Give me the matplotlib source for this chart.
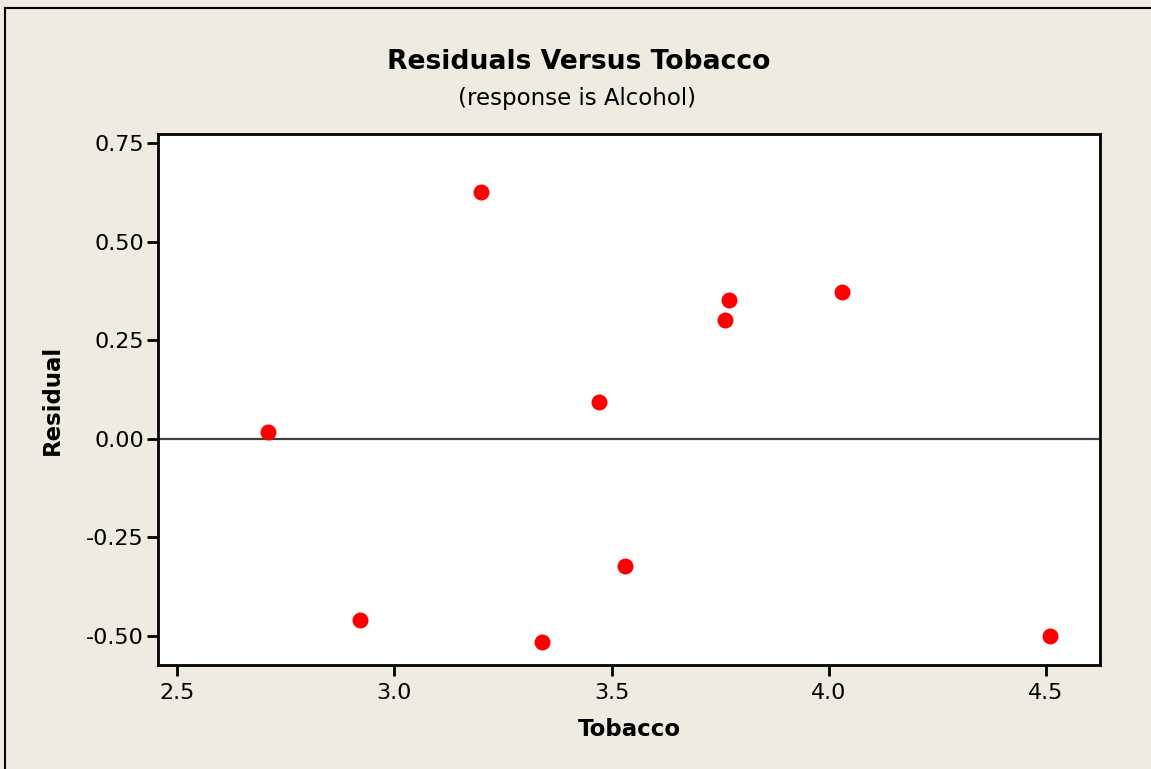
import matplotlib
matplotlib.use("Agg")
import matplotlib.pyplot as plt
from matplotlib.lines import Line2D

tobacco = [2.71, 2.92, 3.20, 3.34, 3.47, 3.53, 3.76, 3.77, 4.03, 4.51]
residual = [0.018, -0.459, 0.627, -0.515, 0.094, -0.322, 0.302, 0.353, 0.373, -0.500]
xticks = [2.5, 3.0, 3.5, 4.0, 4.5]
yticks = [-0.50, -0.25, 0.00, 0.25, 0.50, 0.75]

bg = "#EFEBE1"
plt.rcParams['font.family'] = ['DejaVu Sans']
fig = plt.figure(figsize=(11.51, 7.69), dpi=100, facecolor=bg)
ax = fig.add_axes([158/1151, 1-665/769, (1100-158)/1151, (665-134)/769])
ax.set_facecolor("white")
ax.axhline(0, color="#404040", lw=1.6, zorder=1)
ax.plot(tobacco, residual, 'o', color="#FF0000", markersize=11.5, markeredgewidth=0, zorder=3)
ax.set_xlim(2.456, 4.624)
ax.set_ylim(-0.574, 0.774)
ax.set_xticks(xticks)
ax.set_xticklabels([f"{v:.1f}" for v in xticks])
ax.set_yticks(yticks)
ax.set_yticklabels([f"{v:.2f}" for v in yticks])
for s in ax.spines.values():
    s.set_linewidth(2)
ax.tick_params(direction='out', length=8, width=2, labelsize=16)
ax.tick_params(axis='x', pad=5)
ax.tick_params(axis='y', pad=2)
ax.set_xlabel("Tobacco", fontsize=16.5, fontweight='bold', va='center')
ax.xaxis.set_label_coords(0.5, (665-729)/531)
ax.set_ylabel("Residual", fontsize=16.5, fontweight='bold', va='center')
ax.yaxis.set_label_coords((52-158)/942, 0.5)
fig.text(579/1151, 1-62/769, "Residuals Versus Tobacco", ha='center', va='center', fontsize=19.2, fontweight='bold')
fig.text(577/1151, 1-98/769, "(response is Alcohol)", ha='center', va='center', fontsize=16.5)
# outer border (left and top visible)
fig.add_artist(Line2D([4.5/1151, 4.5/1151], [0, 1-7.5/769], transform=fig.transFigure, color='black', lw=1.5))
fig.add_artist(Line2D([4.5/1151, 1], [1-7.5/769, 1-7.5/769], transform=fig.transFigure, color='black', lw=1.5))
fig.savefig("out.png", dpi=100, facecolor=bg)
